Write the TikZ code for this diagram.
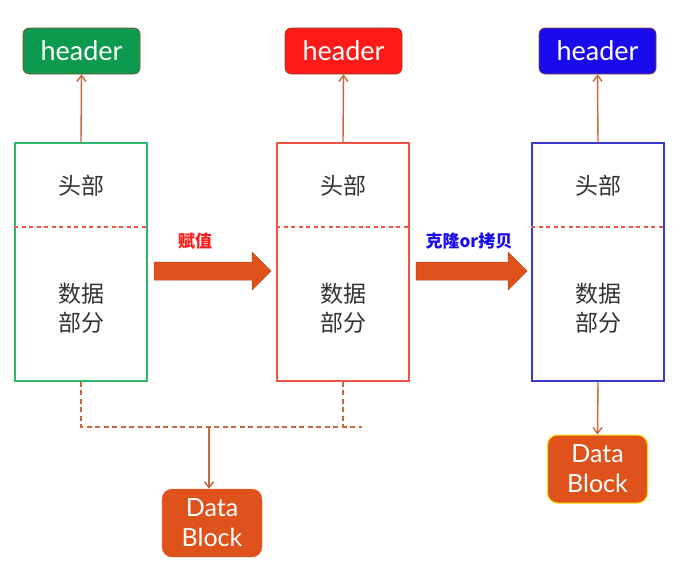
\documentclass[tikz,border=0pt]{standalone}
\usepackage{fontspec}
\setmainfont{Lato}
\newfontfamily\cjk{Noto Sans CJK SC}
\usetikzlibrary{arrows.meta,calc}
\definecolor{hgreen}{HTML}{0B9A4E}
\definecolor{hred}{HTML}{FF1A1A}
\definecolor{hblue}{HTML}{1A0AEE}
\definecolor{bgreen}{HTML}{2DB86D}
\definecolor{bred}{HTML}{EE5545}
\definecolor{bblue}{HTML}{3A3AC8}
\definecolor{dorange}{HTML}{E0521C}
\definecolor{conncol}{HTML}{C8683E}
\definecolor{txtgray}{HTML}{333333}
\begin{document}
\begin{tikzpicture}[x=1pt,y=1pt,
  hdr/.style={rectangle, rounded corners=6pt, minimum width=117pt, minimum height=46pt,
    draw=conncol!70!black, line width=0.6pt, text=white, font=\fontsize{27}{30}\selectfont, inner sep=0pt},
  memb/.style={rectangle, minimum width=132pt, minimum height=238pt, line width=1.5pt, fill=white, inner sep=0pt},
  cn/.style={font=\cjk\fontsize{23}{29}\selectfont, text=txtgray, align=center},
  conn/.style={draw=conncol, line width=1.4pt, -{Straight Barb[length=6pt,width=9pt]}},
  dsh/.style={draw=conncol, line width=1.7pt, dash pattern=on 5pt off 3.5pt},
  indash/.style={line width=1.8pt, dash pattern=on 4pt off 3.5pt},
  dblock/.style={rectangle, rounded corners=10pt, minimum width=100pt, minimum height=68pt,
    fill=dorange, text=white, align=center, inner sep=0pt, font=\fontsize{25}{30}\selectfont},
  barrow/.style={fill=dorange, draw=dorange!85!black, line width=0.5pt},
  lbl/.style={font=\cjk\bfseries\fontsize{17}{20}\selectfont}
]
\useasboundingbox (0,0) rectangle (685,-565);
\fill[white] (0,0) rectangle (685,-565);

% headers
\node[hdr, fill=hgreen] (h1) at (81.5,-51) {header};
\node[hdr, fill=hred] (h2) at (343.5,-51) {header};
\node[hdr, fill=hblue] (h3) at (597.5,-51) {header};

% memory boxes
\node[memb, draw=bgreen] (b1) at (81,-262) {};
\node[memb, draw=bred] (b2) at (343,-262) {};
\node[memb, draw=bblue] (b3) at (598,-262) {};

\foreach \b in {b1,b2,b3}{
  \draw[indash, draw=bred] ([yshift=-85pt]\b.north west) -- ([yshift=-85pt]\b.north east);
}

\node[cn] (t1) at (81,-186) {头部};
\node[cn] (t2) at (343,-186) {头部};
\node[cn] (t3) at (598,-186) {头部};
\node[cn] (d1) at (81,-308) {数据\\部分};
\node[cn] (d2) at (343,-308) {数据\\部分};
\node[cn] (d3) at (598,-308) {数据\\部分};

% arrows to headers
\draw[conn] (b1.north) -- (h1.south);
\draw[conn] (b2.north) -- (h2.south);
\draw[conn] (b3.north) -- (h3.south);

% block arrows
\fill[barrow] (154,-262) -- (252,-262) -- (252,-252) -- (271,-271) -- (252,-290) -- (252,-280) -- (154,-280) -- cycle;
\fill[barrow] (416,-262) -- (508,-262) -- (508,-252) -- (527,-271) -- (508,-290) -- (508,-280) -- (416,-280) -- cycle;
\node[lbl, text=hred] (l1) at (195,-241) {赋值};
\node[lbl, text=hblue] (l2) at (469,-241) {克隆or拷贝};

% data blocks
\node[dblock, draw=dorange!80!white] (db1) at (212,-523) {Data\\Block};
\node[dblock, draw=yellow!80!orange, line width=1pt] (db2) at (597.5,-469) {Data\\Block};

% dashed shared link
\coordinate (jm) at (209,-427);
\coordinate (jr) at (362,-427);
\draw[dsh] (b1.south) -- (b1.south |- jm) -- (jr);
\draw[dsh] (b2.south) -- (b2.south |- jm);
\draw[conn] (jm) -- (jm |- db1.north);
\draw[conn] (b3.south) -- (db2.north);
\end{tikzpicture}
\end{document}
